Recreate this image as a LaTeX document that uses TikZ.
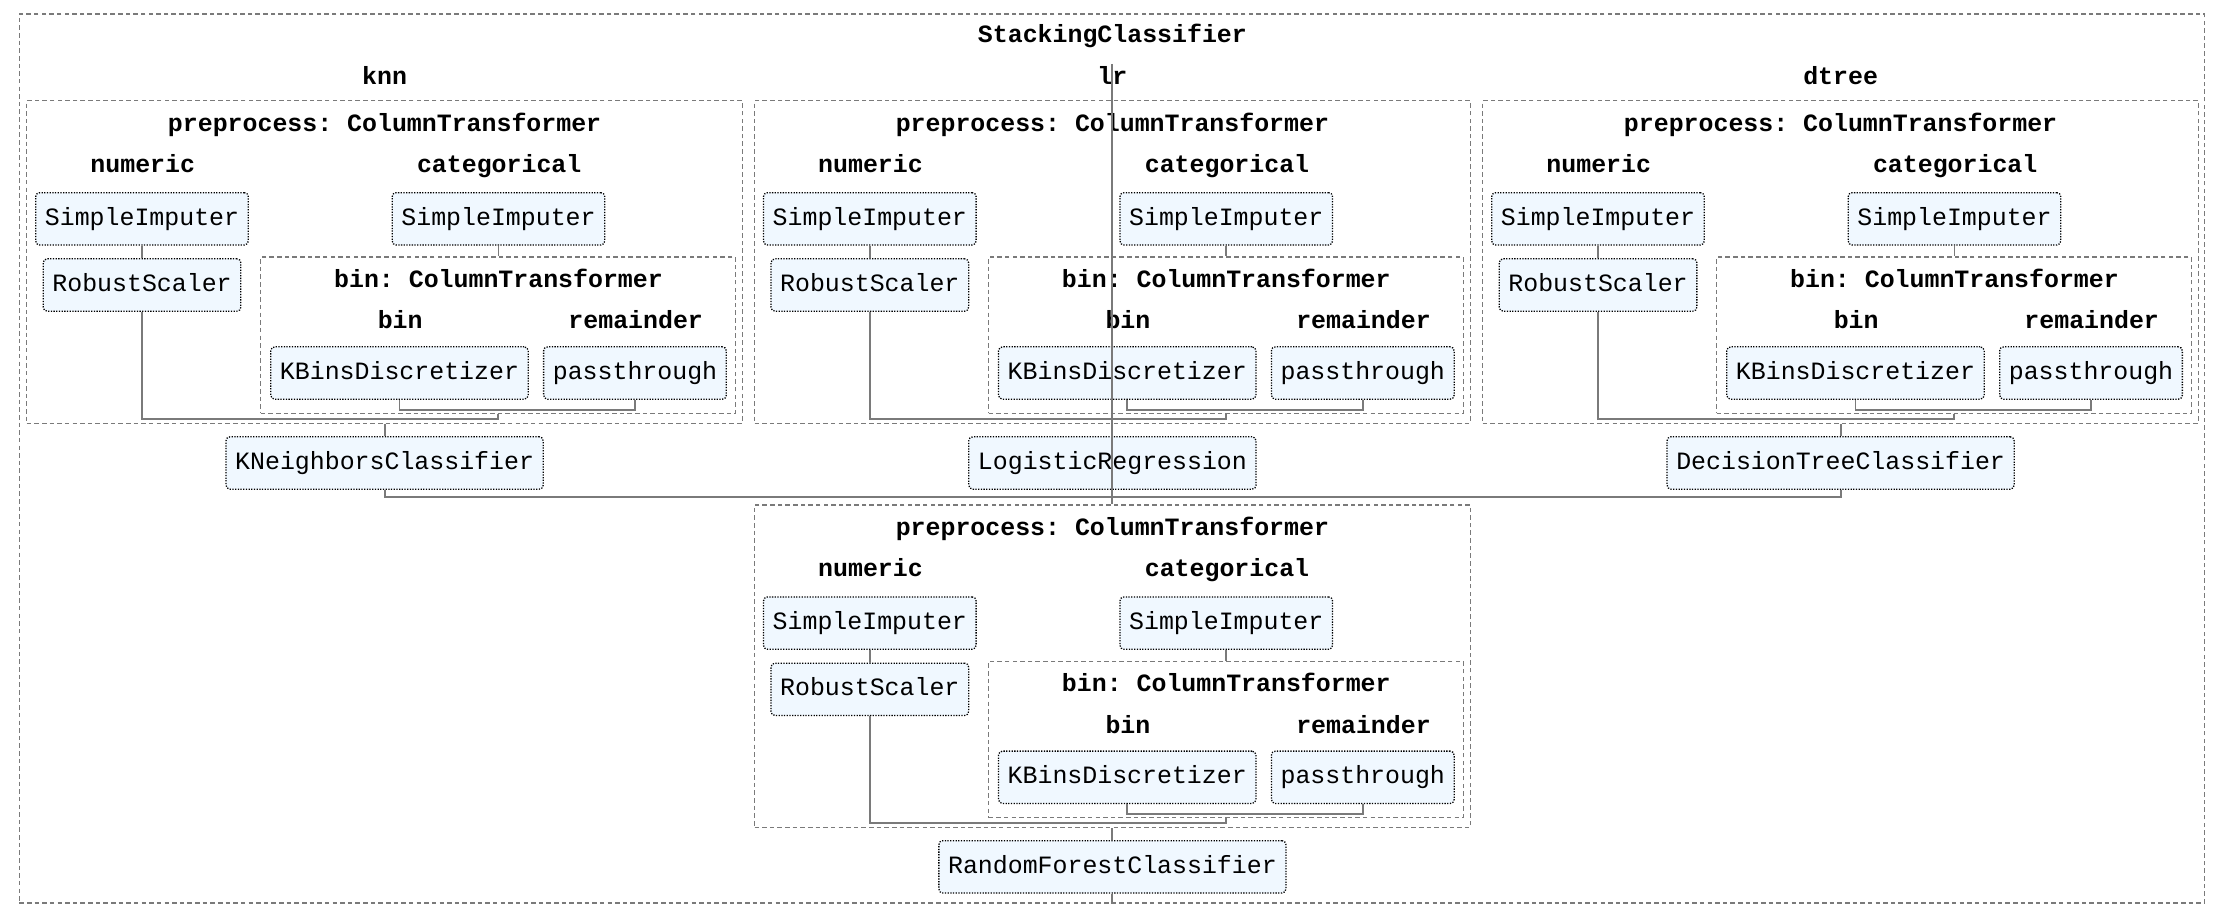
\documentclass[tikz,border=0pt]{standalone}
\usepackage{fontspec}
\setmonofont{Liberation Mono}
\usepackage{tikz}
\usetikzlibrary{positioning}

\definecolor{estfill}{HTML}{F0F8FF}
\definecolor{framegray}{HTML}{7A7A7A}

\begin{document}
\begin{tikzpicture}[
  x=0.5pt, y=-0.5pt,
  every node/.style={font=\ttfamily\fontsize{8.8}{10}\selectfont},
  container/.style={rectangle, draw=framegray, line width=0.45pt,
    dash pattern=on 1.6pt off 1.1pt, inner sep=0pt},
  tag/.style={font=\ttfamily\bfseries\fontsize{8.8}{10}\selectfont, inner sep=0pt,
    text height=7.2pt, text depth=1.6pt},
  est/.style={rectangle, draw=black, fill=estfill, rounded corners=1.4pt,
    line width=0.45pt, dash pattern=on 0.45pt off 0.5pt,
    minimum height=18.5pt, inner xsep=3.25pt, inner ysep=0pt,
    text height=6.2pt, text depth=1.6pt},
  link/.style={draw=framegray, line width=0.65pt}
]
  \useasboundingbox (0,0) rectangle (1568,648.97);

  % outer stacking frame
  \node[container, minimum width=772.35pt, minimum height=314.25pt] (stack) at (786.05,324.15) {};
  \node[tag] (title) at (786.4,24.7) {StackingClassifier};
  \node[tag] (knnlbl) at (271.9,54.2) {knn};
  \node[tag] (lrlbl) at (786.4,54.2) {lr};
  \node[tag] (dtreelbl) at (1301.2,54.2) {dtree};

  % one preprocess block per estimator
  \foreach \n/\bx/\by in {knn/18.9/71.2, lr/533.4/71.2, dtree/1048.2/71.2, meta/533.4/357}{
    \begin{scope}[shift={(\bx,\by)}]
      \node[container, minimum width=253pt, minimum height=114pt] (\n-pre) at (253,114) {};
      \node[tag] (\n-pretitle) at (253,16) {preprocess: ColumnTransformer};
      \node[tag] (\n-numlbl) at (82,45) {numeric};
      \node[tag] (\n-catlbl) at (334,45) {categorical};
      \node[est] (\n-numimp) at (81.5,83.5) {SimpleImputer};
      \node[est] (\n-catimp) at (333.5,83.5) {SimpleImputer};
      \node[est] (\n-scaler) at (81.5,130.3) {RobustScaler};
      \node[container, minimum width=167.75pt, minimum height=55.25pt] (\n-bin) at (333.25,165.75) {};
      \node[tag] (\n-bintitle) at (333.5,126.2) {bin: ColumnTransformer};
      \node[tag] (\n-binlbl) at (264,155.7) {bin};
      \node[tag] (\n-remlbl) at (430.5,155.7) {remainder};
      \node[est] (\n-kbins) at (263.5,192.5) {KBinsDiscretizer};
      \node[est] (\n-pass) at (430,192.5) {passthrough};
      \coordinate (\n-join) at (333.25,224.8);

      \draw[link] (\n-numimp) -- (\n-scaler);
      \draw[link] (\n-catimp.south) -- (\n-catimp.south |- \n-bin.north);
      \draw[link] (\n-kbins.south) -- ++(0,7.2) -| (\n-pass.south);
      \draw[link] (\n-scaler.south) |- (\n-join) -- (\n-bin.south);
    \end{scope}
  }

  % final estimators
  \node[est] (knn) at (271.9,327.3) {KNeighborsClassifier};
  \node[est] (lr) at (786.4,327.3) {LogisticRegression};
  \node[est] (dtree) at (1301.2,327.3) {DecisionTreeClassifier};
  \node[est] (rf) at (786.4,612.8) {RandomForestClassifier};
  \coordinate (split) at (786.4,45.2);

  \draw[link] (knn-pre) -- (knn);
  \draw[link] (lr-pre) -- (lr);
  \draw[link] (dtree-pre) -- (dtree);
  \draw[link] (knn.south) -- ++(0,5.2) -| (dtree.south);
  \draw[link] (split) -- (meta-pre.north);
  \draw[link] (meta-pre) -- (rf);
  \draw[link] (rf.south) -- (rf.south |- stack.south);
\end{tikzpicture}
\end{document}
